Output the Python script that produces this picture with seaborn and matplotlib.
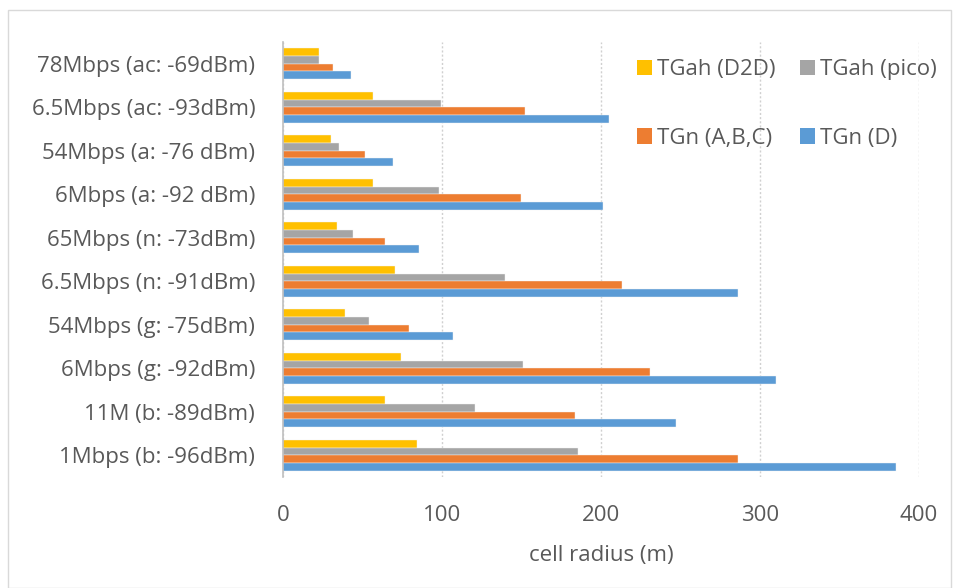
import matplotlib
matplotlib.use("Agg")
import matplotlib.pyplot as plt
import seaborn as sns
import pandas as pd
from matplotlib.patches import Rectangle, Patch

categories = ["78Mbps (ac: -69dBm)", "6.5Mbps (ac: -93dBm)", "54Mbps (a: -76 dBm)",
              "6Mbps (a: -92 dBm)", "65Mbps (n: -73dBm)", "6.5Mbps (n: -91dBm)",
              "54Mbps (g: -75dBm)", "6Mbps (g: -92dBm)", "11M (b: -89dBm)",
              "1Mbps (b: -96dBm)"]
series = ["TGah (D2D)", "TGah (pico)", "TGn (A,B,C)", "TGn (D)"]
tgah_d2d = [22.4, 56.6, 30.2, 56.6, 34.0, 70.2, 39.0, 74.2, 63.9, 84.3]
tgah_pico = [22.4, 99.4, 35.0, 98.3, 43.8, 139.8, 53.9, 151.1, 120.9, 185.3]
tgn_abc = [31.2, 152.2, 51.6, 149.9, 64.2, 212.9, 79.0, 230.6, 183.8, 286.2]
tgn_d = [42.8, 205.2, 69.4, 201.4, 85.5, 286.0, 106.9, 310.0, 246.9, 385.4]
colors = ["#FFC000", "#A5A5A5", "#ED7D31", "#5B9BD5"]

rows = []
for s, vals in zip(series, [tgah_d2d, tgah_pico, tgn_abc, tgn_d]):
    for c, v in zip(categories, vals):
        rows.append({"category": c, "series": s, "value": v})
df = pd.DataFrame(rows)

sns.set_theme(style="white")
plt.rcParams["font.family"] = ["Open Sans", "DejaVu Sans"]
txt = "#595959"
fs = 16

fig = plt.figure(figsize=(9.6, 5.88), dpi=100)
ax = fig.add_axes([283/960, 1-477/588, (919-283)/960, (477-42)/588])
sns.barplot(data=df, y="category", x="value", hue="series", order=categories,
            hue_order=series, palette=colors, orient="h", width=0.71,
            edgecolor="#F4F4F4", linewidth=0.3, ax=ax, legend=False, saturation=1)

ax.set_xlim(0, 400)
ax.set_xticks([0, 100, 200, 300, 400])
ax.set_ylim(len(categories) - 0.5, -0.5)
ax.xaxis.grid(True, linestyle=(0, (1.5, 1.5)), color="#D0D0D0", linewidth=1)
ax.set_axisbelow(True)
for sp in ["top", "right", "bottom"]:
    ax.spines[sp].set_visible(False)
ax.spines["left"].set_color("#BFBFBF")
ax.spines["left"].set_linewidth(1.2)
ax.tick_params(axis="y", length=0, pad=20, labelsize=fs, labelcolor=txt)
ax.tick_params(axis="x", length=0, pad=20, labelsize=fs, labelcolor=txt)
ax.set_ylabel("")
ax.set_xlabel("cell radius (m)", fontsize=fs, color=txt, labelpad=14)

# row-major legend: D2D, pico / ABC, D
leg_order = [0, 2, 1, 3]
handles = [Patch(facecolor=colors[i], edgecolor="none") for i in leg_order]
labels = [series[i] for i in leg_order]
fig.legend(handles, labels, ncol=2, loc="upper left",
           bbox_to_anchor=(637/960, 1-59/588), frameon=False,
           fontsize=fs, labelcolor=txt, handlelength=0.68, handleheight=0.68,
           handletextpad=0.22, columnspacing=1.08, labelspacing=2.15,
           borderaxespad=0, borderpad=0)

fig.patches.append(Rectangle((8/960, 0), (951-8)/960, 1-10/588,
                             transform=fig.transFigure, fill=False,
                             edgecolor="#D9D9D9", linewidth=1))

fig.savefig("out.png", dpi=100)
